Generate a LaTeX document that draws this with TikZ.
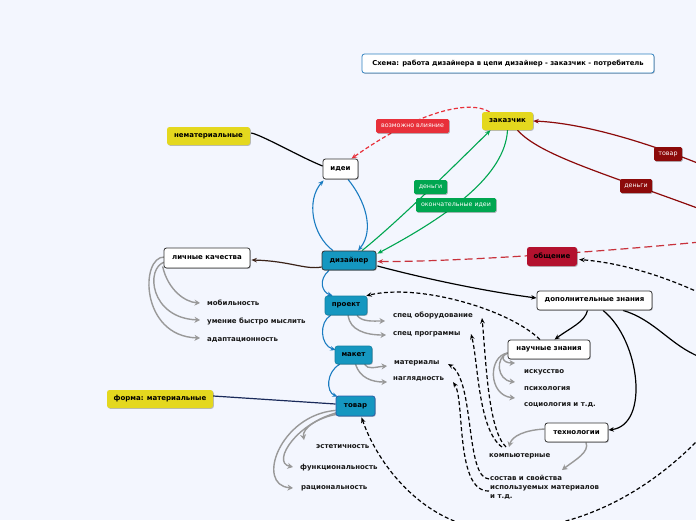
\documentclass[tikz,border=0pt]{standalone}
\usepackage{fontspec}
\setmainfont{DejaVu Sans}
\usetikzlibrary{arrows.meta,shadows,calc}
\pgfdeclarelayer{back}
\pgfdeclarelayer{bg}
\pgfsetlayers{back,bg,main}
\definecolor{bgc}{HTML}{F3F6FE}
\definecolor{tealc}{HTML}{1597C0}
\definecolor{yelc}{HTML}{E4D81E}
\definecolor{grnc}{HTML}{00A650}
\definecolor{redl}{HTML}{E8303A}
\definecolor{dredc}{HTML}{8C0A0A}
\definecolor{obc}{HTML}{B3112E}
\definecolor{bluc}{HTML}{1A7CC1}
\definecolor{nvyc}{HTML}{1A2A5A}
\definecolor{brnc}{HTML}{3A2218}
\definecolor{gryc}{HTML}{999999}
\definecolor{titb}{HTML}{2F80BF}
\definecolor{odc}{HTML}{C8323C}
\definecolor{tvb}{HTML}{2B5EA8}
\tikzset{
  shad/.style={drop shadow={shadow xshift=0.8pt,shadow yshift=-0.8pt,opacity=0.25,fill=black}},
  box/.style={rounded corners=2.5pt, inner sep=0pt, font=\fontsize{7}{8}\selectfont\bfseries, text=black, shad},
  wbox/.style={box, fill=white, draw=black!80, line width=0.8pt},
  tbox/.style={box, fill=tealc, draw=tealc!85!black, line width=0.6pt},
  ybox/.style={box, fill=yelc},
  tibox/.style={box, fill=white, draw=titb, line width=0.8pt, font=\fontsize{6.8}{8}\selectfont\bfseries},
  lbl/.style={rounded corners=1.5pt, inner sep=0pt, text=white, font=\fontsize{6.3}{7}\selectfont, shad},
  txt/.style={inner sep=0pt, anchor=west, font=\fontsize{7}{8}\selectfont\bfseries, text=black!90},
  tip/.style={-{Stealth[length=5.5pt,width=4.5pt]}},
  blu/.style={draw=bluc, line width=1.1pt, tip},
  grn/.style={draw=grnc, line width=1.1pt, tip},
  gry/.style={draw=gryc, line width=1.4pt, -{Stealth[length=5.5pt,width=6pt]}},
  blk/.style={draw=black, line width=1.2pt},
  blka/.style={blk, tip},
  rdash/.style={draw=redl, line width=1.2pt, dash pattern=on 4pt off 2.5pt, tip},
  odash/.style={draw=odc, line width=1.2pt, dash pattern=on 8pt off 4pt, tip},
  kdash/.style={draw=black, line width=1.2pt, dash pattern=on 4pt off 2.5pt, tip},
  dred/.style={draw=dredc, line width=1.2pt},
}
\begin{document}
\begin{tikzpicture}[x=1pt,y=-1pt]
\begin{pgfonlayer}{back}
\fill[bgc] (0,0) rectangle (696,520);
\end{pgfonlayer}
\useasboundingbox (0,0) rectangle (696,520);

% coordinates at the frame edge
\coordinate (rA) at (700,164);
\coordinate (rB) at (700,209);
\coordinate (rC) at (700,242);
\coordinate (rD) at (700,293);
\coordinate (rE) at (700,357);
\coordinate (rF) at (700,438);

% boxes
\node[tibox, minimum width=292pt, minimum height=19pt] (title) at (508,63.5) {Схема: работа дизайнера в цепи дизайнер - заказчик - потребитель};
\node[ybox, minimum width=51pt, minimum height=18pt] (zak) at (507.5,121) {заказчик};
\node[ybox, minimum width=83pt, minimum height=18pt] (nemat) at (208.5,136) {нематериальные};
\node[wbox, minimum width=35pt, minimum height=20pt] (idei) at (340.5,169) {идеи};
\node[tbox, draw=black!80, line width=0.8pt, minimum width=54pt, minimum height=19pt] (diz) at (349,260.5) {дизайнер};
\node[wbox, minimum width=86pt, minimum height=20pt] (lich) at (207,258) {личные качества};
\node[box, fill=obc, minimum width=50pt, minimum height=19pt] (obsh) at (552,256.5) {общение};
\node[tbox, minimum width=42pt, minimum height=19pt] (proekt) at (346,305.5) {проект};
\node[wbox, minimum width=115pt, minimum height=19pt] (dop) at (594.5,300.5) {дополнительные знания};
\node[wbox, minimum width=82pt, minimum height=19pt] (nauch) at (549,349.5) {научные знания};
\node[tbox, minimum width=37pt, minimum height=18pt] (maket) at (353.5,355) {макет};
\node[ybox, minimum width=106pt, minimum height=18pt] (forma) at (160,399) {форма: материальные};
\node[tbox, draw=tvb, line width=0.8pt, minimum width=39pt, minimum height=20pt] (tovar) at (355.5,406) {товар};
\node[wbox, minimum width=63pt, minimum height=19pt] (tech) at (576.5,432.5) {технологии};

% plain texts
\node[txt] (spob) at (393,315.5) {спец оборудование};
\node[txt] (spprog) at (393,334.5) {спец программы};
\node[txt] (mater) at (394,363.5) {материалы};
\node[txt] (nagl) at (393,379.5) {наглядность};
\node[txt] (isk) at (524,372.5) {искусство};
\node[txt] (psih) at (524,388.5) {психология};
\node[txt] (soc) at (524,405.5) {социология и т.д.};
\node[txt] (mob) at (207,302.5) {мобильность};
\node[txt] (umen) at (207,321.5) {умение быстро мыслить};
\node[txt] (adapt) at (207,340.5) {адаптационность};
\node[txt] (est) at (316,446.5) {эстетичность};
\node[txt] (func) at (300,467.5) {функциональность};
\node[txt] (rac) at (301,488.5) {рациональность};
\node[txt] (komp) at (489,456.5) {компьютерные};
\node[txt, anchor=north west, align=left, font=\fontsize{7}{8.8}\selectfont\bfseries] (sost) at (490,475) {состав и свойства\\используемых материалов\\и т.д.};

% connector labels
\node[lbl, fill=redl, minimum width=73pt, minimum height=14pt] (vliy) at (412.5,126) {возможно влияние};
\node[lbl, fill=grnc, minimum width=33pt, minimum height=14pt] (dengi) at (430.5,187) {деньги};
\node[lbl, fill=grnc, minimum width=80pt, minimum height=14pt] (okid) at (456,205) {окончательные идеи};
\node[lbl, fill=dredc, minimum width=28pt, minimum height=14pt] (tovR) at (668,154) {товар};
\node[lbl, fill=dredc, minimum width=32pt, minimum height=14pt] (denR) at (636,186) {деньги};

\begin{pgfonlayer}{bg}
\clip (0,0) rectangle (696,520);
% black plain
\draw[blk] ($(nemat.east)+(1,-3)$) .. controls (262,135) and (300,157) .. ($(idei.west)+(0,-3)$);
% blue chain
\draw[blu] ($(idei.south)+(7.5,0)$) .. controls (365,200) and (375,230) .. ($(diz.north)+(9,0)$);
\draw[blu] ($(diz.north)+(-16,0)$) .. controls (312,235) and (306,200) .. ($(idei.south west)+(1,1)$);
\draw[blu] ($(diz.south)+(-20,0)$) .. controls (318,280) and (322,292) .. ($(proekt.north west)+(8,0)$);
\draw[blu] ($(proekt.south west)+(6,0)$) .. controls (319,322) and (320,345) .. ($(maket.west)+(1,-5)$);
\draw[blu] ($(maket.south west)+(5,0)$) .. controls (326,372) and (326,392) .. ($(tovar.north west)+(2,1)$);
% green
\draw[grn] ($(diz.north)+(13,0)$) .. controls (400,220) and (460,160) .. ($(zak.south)+(-17,0)$);
\draw[grn] (zak.south) .. controls (505,175) and (450,215) .. ($(diz.north east)+(1,3)$);
% red dashed
\draw[rdash] ($(zak.north)+(-18,0)$) .. controls (470,100) and (420,110) .. ($(idei.north)+(11,0)$);
% dark red
\draw[dred, tip] (rA) .. controls (640,140) and (580,123) .. (zak.east);
\draw[dred] ($(zak.south)+(10,0)$) .. controls (540,155) and (600,172) .. (rB);
% obshchenie
\draw[odash] (rC) .. controls (600,252) and (450,262) .. ($(diz.east)+(1,1)$);
\draw[kdash] (rD) .. controls (650,270) and (610,262) .. ($(obsh.east)+(2,3)$);
% brown
\draw[draw=brnc, line width=1.2pt, tip] ($(diz.west)+(0,6.5)$) .. controls (305,270) and (290,261) .. ($(lich.east)+(1,2)$);
% black
\draw[blka] ($(diz.east)+(1,5.5)$) .. controls (430,280) and (490,292) .. ($(dop.west)+(0,-2.5)$);
\draw[draw=nvyc, line width=1.2pt] ($(forma.east)+(0,-3)$) -- ($(tovar.west)+(0,-2)$);
\draw[blka] ($(dop.south)+(-7,0)$) .. controls (585,322) and (570,328) .. ($(nauch.north)+(5.5,0)$);
\draw[blka] ($(dop.south)+(8.5,0)$) .. controls (640,340) and (650,425) .. ($(tech.east)+(0,-2.5)$);
\draw[blk] ($(dop.south)+(28.5,0)$) .. controls (655,320) and (670,345) .. (rE);
% black dashed
\draw[kdash] ($(nauch.north)+(-9,0)$) .. controls (510,310) and (420,283) .. ($(proekt.north east)+(-1,0)$);
\draw[kdash] ($(komp.west)+(17,-9.5)$) .. controls (488,430) and (486,360) .. ($(spob.west)+(89,2.5)$);
\draw[kdash] ($(komp.west)+(13,-9.5)$) .. controls (478,430) and (478,360) .. ($(spprog.west)+(78,-0.5)$);
\draw[kdash] ($(sost.north west)+(-1,4)$) .. controls (465,478) and (475,380) .. ($(mater.west)+(54,0.5)$);
\draw[kdash] ($(sost.north west)+(-1,16)$) .. controls (455,492) and (465,400) .. ($(nagl.west)+(60,2.5)$);
\draw[kdash] (rF) .. controls (640,500) and (570,530) .. (500,530) .. controls (430,530) and (380,470) .. ($(tovar.south)+(6,1)$);
% gray
\draw[gry] ($(lich.south west)+(-1,-2)$) .. controls (168,290) and (185,302) .. ($(mob.west)+(-7,0.5)$);
\draw[gry] ($(lich.west)+(1,4)$) .. controls (145,268) and (150,318) .. ($(umen.west)+(-7,-1.5)$);
\draw[gry] ($(lich.west)+(1,-1)$) .. controls (140,256) and (140,336) .. ($(adapt.west)+(-7,-2.5)$);
\draw[gry] ($(proekt.south)+(11,0)$) .. controls (362,322) and (372,321) .. ($(spob.west)+(-8,5.5)$);
\draw[gry] ($(proekt.south)+(2,0)$) .. controls (350,330) and (365,335) .. ($(spprog.west)+(-7,0.5)$);
\draw[gry] ($(maket.south)+(11,0)$) .. controls (368,370) and (375,367) .. ($(mater.west)+(-7,2.5)$);
\draw[gry] ($(maket.south)+(2,0)$) .. controls (360,378) and (372,382) .. ($(nagl.west)+(-6,2.5)$);
\draw[gry] ($(tovar.south west)+(2,-4)$) .. controls (318,418) and (302,428) .. ($(est.west)+(-12,-6.5)$);
\draw[gry] ($(tovar.south west)+(1,-2)$) .. controls (300,420) and (270,462) .. ($(func.west)+(-7,-0.5)$);
\draw[gry] ($(tovar.south west)+(0,-6)$) .. controls (280,415) and (255,485) .. ($(rac.west)+(-8,-0.5)$);
\draw[gry] ($(nauch.west)+(0,3.5)$) .. controls (500,355) and (502,363) .. ($(isk.west)+(-9,-9.5)$);
\draw[gry] ($(nauch.west)+(0,3.5)$) .. controls (495,358) and (497,380) .. ($(psih.west)+(-9,-6.5)$);
\draw[gry] ($(nauch.west)+(0,3.5)$) .. controls (488,356) and (488,395) .. ($(soc.west)+(-9,-7.5)$);
\draw[gry] ($(tech.west)+(0,-3.5)$) .. controls (525,430) and (512,436) .. ($(komp.west)+(20,-9.5)$);
\draw[gry] ($(tech.south)+(9.5,0)$) .. controls (590,452) and (575,460) .. ($(sost.north west)+(72,-5)$);
\end{pgfonlayer}
\end{tikzpicture}
\end{document}
